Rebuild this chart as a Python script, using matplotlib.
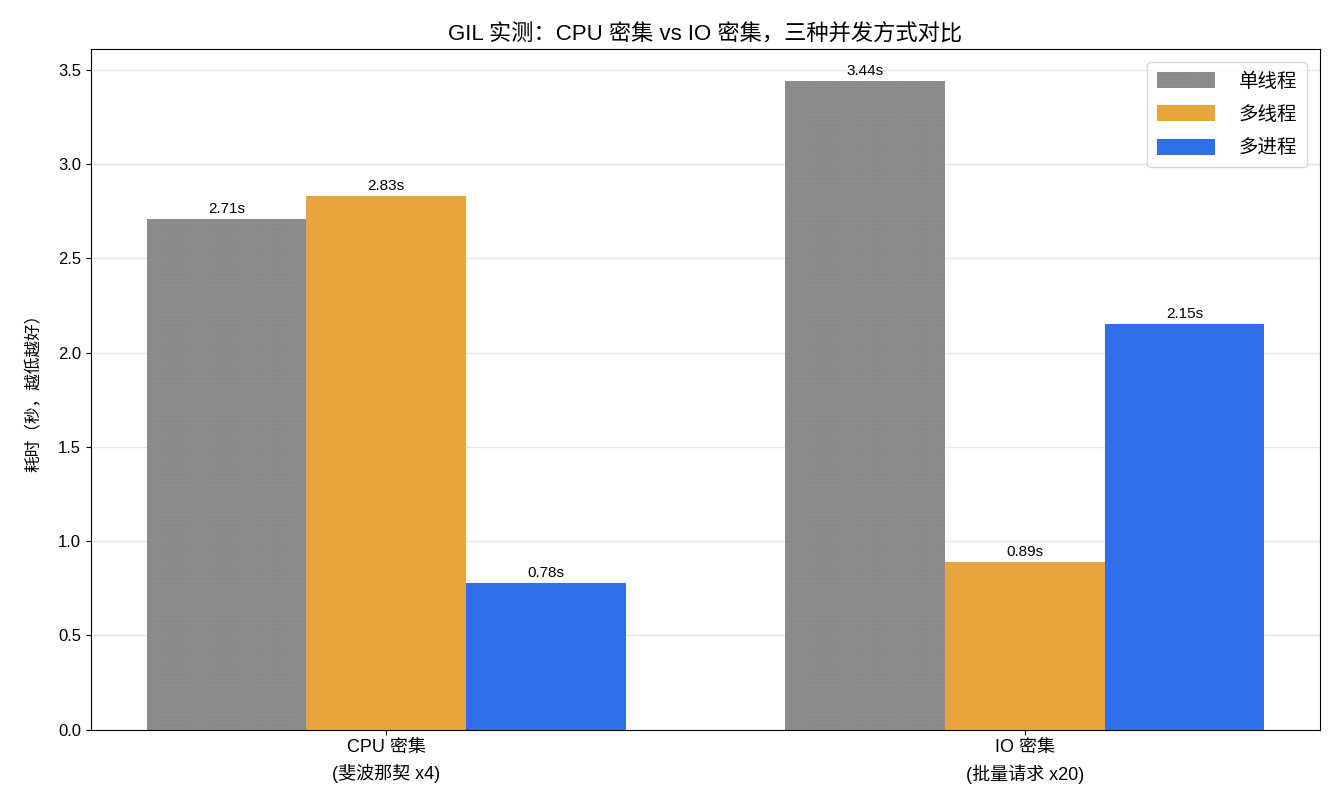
import numpy as np
import matplotlib
matplotlib.use("Agg")
import matplotlib.pyplot as plt

plt.rcParams['font.family'] = ['Liberation Sans', 'Noto Sans CJK SC', 'DejaVu Sans']
plt.rcParams['hatch.linewidth'] = 0.3

# data
categories = ['CPU 密集\n(斐波那契 x4)', 'IO 密集\n(批量请求 x20)']
methods = ['单线程', '多线程', '多进程']
times = {
    '单线程': [2.71, 3.44],
    '多线程': [2.83, 0.89],
    '多进程': [0.78, 2.15],
}
colors = ['#8c8c8c', '#e8a53e', '#2f70ea']

x = np.arange(len(categories))
width = 0.25

fig, ax = plt.subplots(figsize=(13.35, 8.09), dpi=100)
for i, m in enumerate(methods):
    vals = times[m]
    if i == 0:
        bars = ax.bar(x + (i - 1) * width, vals, width, label=m, color=colors[i],
                      hatch='....', edgecolor='#828282', linewidth=0)
    else:
        bars = ax.bar(x + (i - 1) * width, vals, width, label=m, color=colors[i], linewidth=0)
    ax.bar_label(bars, labels=[f'{v:.2f}s' for v in vals], padding=2, fontsize=11)

ax.set_xticks(x)
ax.set_xticklabels(categories, fontsize=13, linespacing=1.5)
ax.tick_params(axis='y', labelsize=12)
ax.set_ylabel('耗时（秒，越低越好）', fontsize=12, labelpad=12)
ax.set_title('GIL 实测：CPU 密集 vs IO 密集，三种并发方式对比', fontsize=16)
ax.set_ylim(0, max(max(v) for v in times.values()) * 1.05)
ax.yaxis.grid(True, color='#e6e6e6', linewidth=1)
ax.set_axisbelow(True)
ax.legend(loc='upper right', fontsize=14, handlelength=3.0, handleheight=0.9,
          handletextpad=1.2, labelspacing=0.75, borderpad=0.5, borderaxespad=0.7)

plt.subplots_adjust(left=0.068, right=0.989, top=0.94, bottom=0.098)
plt.savefig('out.png', dpi=100)
